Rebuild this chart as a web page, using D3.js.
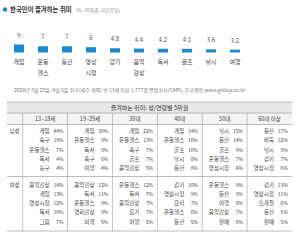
<!DOCTYPE html>
<html><head><meta charset="utf-8">
<script src="https://cdn.jsdelivr.net/npm/d3@7"></script>
<style>
html,body{margin:0;padding:0;background:#fff;}
svg{display:block;font-family:"Noto Sans CJK KR","Noto Sans",sans-serif;}
</style></head>
<body>
<svg id="c" width="300" height="241"></svg>
<script>
const hobbies = ["게임","운동\n헬스","등산","영상\n시청","걷기","음악\n감상","독서","골프","낚시","여행"];
const hobbyValues = [9,7,7,6,4.8,4.4,4.2,4.1,3.6,3.2];
const ageGroups = ["13~18세","19~29세","30대","40대","50대","60대 이상"];
const genders = ["남성","여성"];
const maleNames = [
  ["게임","축구","운동헬스","독서","농구"],
  ["게임","운동헬스","독서","축구","여행"],
  ["게임","운동헬스","축구","골프","음악감상"],
  ["게임","운동헬스","골프","낚시","등산"],
  ["낚시","등산","골프","운동헬스","영상시청"],
  ["등산","바둑","낚시","걷기","영상시청"]
];
const maleValues = [
  [44,19,7,4,4],
  [30,9,9,6,4],
  [22,13,7,7,5],
  [14,10,10,8,8],
  [15,14,9,7,6],
  [17,12,9,7,6]
];
const femaleNames = [
  ["음악감상","게임","영상시청","독서","그림"],
  ["음악감상","독서","운동헬스","영화감상","여행"],
  ["운동헬스","독서","음악감상","요가","여행"],
  ["걷기","영상시청","요리","운동헬스","등산"],
  ["운동헬스","등산","여행","음악감상","원예"],
  ["걷기","영상시청","뜨개질","등산","원예"]
];
const femaleValues = [
  [14,13,12,10,7],
  [12,11,9,9,5],
  [12,7,7,7,6],
  [10,9,7,6,5],
  [9,9,8,7,6],
  [13,11,6,5,5]
];
const titleText = "한국인이 즐겨하는 취미";
const subText = "(%, 10위권, 자유응답)";
const noteText = "- 2024년 3월 22일~4월 8일 전국(제주 제외) 만 13세 이상 1,777명 면접조사(CAPI). 한국갤럽 www.gallup.co.kr";
const tableTitle = "즐겨하는 취미: 성/연령별 5위권";

const svg = d3.select("#c");
const blue = "#1b8ad3";

// title
svg.append("circle").attr("cx",5).attr("cy",9.5).attr("r",2.3).attr("fill",blue);
const t = svg.append("text").attr("x",10).attr("y",12).attr("fill","#333");
t.append("tspan").attr("font-size",6.4).attr("font-weight","bold").text(titleText);
t.append("tspan").attr("dx",4).attr("font-size",4.8).attr("fill","#888").text(subText);

// bar chart
const x = d3.scaleBand().domain(hobbies).range([7,247]);
const y = d3.scaleLinear().domain([0,9]).range([52.5,44.5]);
const bw = 10;
const g = svg.append("g");
g.selectAll("rect").data(hobbies).join("rect")
  .attr("x",d=>x(d)+x.bandwidth()/2-bw/2)
  .attr("y",(d,i)=>y(hobbyValues[i]))
  .attr("width",bw)
  .attr("height",(d,i)=>y(0)-y(hobbyValues[i]))
  .attr("fill",blue);
g.selectAll("text.v").data(hobbies).join("text").attr("class","v")
  .attr("x",d=>x(d)+x.bandwidth()/2)
  .attr("y",(d,i)=>y(hobbyValues[i])-7)
  .attr("text-anchor","middle").attr("font-size",6).attr("fill","#555")
  .text((d,i)=>hobbyValues[i]);
g.selectAll("text.c").data(hobbies).join("text").attr("class","c")
  .attr("x",d=>x(d)+x.bandwidth()/2)
  .attr("text-anchor","middle").attr("font-size",6).attr("fill","#444")
  .each(function(d){
    const s=d3.select(this);
    d.split("\n").forEach((l,i)=>s.append("tspan").attr("x",x(d)+x.bandwidth()/2).attr("y",64+i*11).text(l));
  });

// note
svg.append("text").attr("x",11).attr("y",92).attr("font-size",5.05).attr("fill","#777").text(noteText);

// table
const tx0=7, tx1=292, hx=22.7;
const col = d3.scaleBand().domain(ageGroups).range([hx,tx1]);
const line = "#a0a0a0";
svg.append("rect").attr("x",tx0).attr("y",102).attr("width",tx1-tx0).attr("height",11).attr("fill","#e8e8e8");
svg.append("rect").attr("x",tx0).attr("y",113).attr("width",tx1-tx0).attr("height",11.5).attr("fill","#f3f3f3");
svg.append("text").attr("x",(tx0+tx1)/2).attr("y",110).attr("text-anchor","middle").attr("font-size",6).attr("fill","#333").text(tableTitle);
[102,113,124.5,176.5,231].forEach(yy=>svg.append("line").attr("x1",tx0).attr("x2",tx1).attr("y1",yy).attr("y2",yy).attr("stroke",line).attr("stroke-width",0.7));
[hx].concat(ageGroups.slice(1).map(a=>col(a))).forEach(xx=>svg.append("line").attr("x1",xx).attr("x2",xx).attr("y1",113).attr("y2",231).attr("stroke",line).attr("stroke-width",0.6));
svg.selectAll("text.age").data(ageGroups).join("text").attr("class","age")
  .attr("x",d=>col(d)+col.bandwidth()/2).attr("y",120.8).attr("text-anchor","middle")
  .attr("font-size",5.5).attr("fill","#444").text(d=>d);

const rowY0 = [131, 184.5], rowH = 9.3;
[[maleNames,maleValues],[femaleNames,femaleValues]].forEach(([names,vals],gi)=>{
  svg.append("text").attr("x",14.5).attr("y",rowY0[gi]+2).attr("text-anchor","middle")
    .attr("font-size",5.5).attr("fill","#444").text(genders[gi]);
  ageGroups.forEach((a,ci)=>{
    names[ci].forEach((n,ri)=>{
      const yy=rowY0[gi]+ri*rowH+2;
      svg.append("text").attr("x",col(a)+col.bandwidth()-18).attr("y",yy).attr("text-anchor","end")
        .attr("font-size",5.5).attr("fill","#444").text(n);
      svg.append("text").attr("x",col(a)+col.bandwidth()-4).attr("y",yy).attr("text-anchor","end")
        .attr("font-size",5).attr("fill","#444").text(vals[ci][ri]+"%");
    });
  });
});
</script>
</body></html>
